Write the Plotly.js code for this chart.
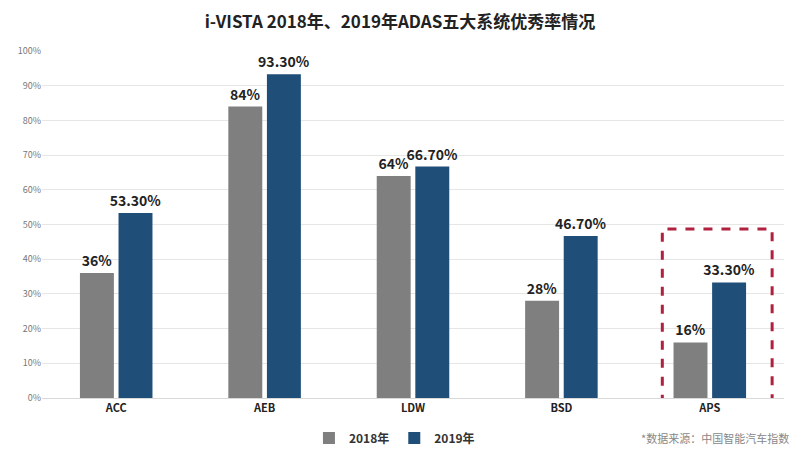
<!DOCTYPE html>
<html>
<head>
<meta charset="utf-8">
<script src="https://cdn.plot.ly/plotly-3.0.1.min.js"></script>
<style>
  html, body { margin: 0; padding: 0; background: #fff; }
  #chart { width: 800px; height: 464px; }
</style>
</head>
<body>
<div id="chart"></div>
<script>
// i-VISTA ADAS excellence rate, 2018 vs 2019
const systems = ["ACC", "AEB", "LDW", "BSD", "APS"];
const rate2018 = [36, 84, 64, 28, 16];
const rate2019 = [53.3, 93.3, 66.7, 46.7, 33.3];
const yTicks = [0, 10, 20, 30, 40, 50, 60, 70, 80, 90, 100];

const FONT = "'Noto Sans CJK SC', 'Noto Sans', sans-serif";
const labelFont = { family: FONT, size: 14, color: "#222", weight: "bold" };

const traces = [
  {
    name: "2018年", type: "bar", x: systems, y: rate2018,
    marker: { color: "#7f7f7f" },
    text: rate2018.map((v) => v + "%"),
    textposition: "outside", cliponaxis: false, constraintext: "none",
    textfont: labelFont, hoverinfo: "skip",
  },
  {
    name: "2019年", type: "bar", x: systems, y: rate2019,
    marker: { color: "#1f4e79" },
    text: rate2019.map((v) => v.toFixed(2) + "%"),
    textposition: "outside", cliponaxis: false, constraintext: "none",
    textfont: labelFont, hoverinfo: "skip",
  },
];

const layout = {
  width: 800, height: 464,
  margin: { l: 42, r: 16, t: 51, b: 58 },
  paper_bgcolor: "#fff", plot_bgcolor: "#fff",
  font: { family: FONT, color: "#333" },
  title: {
    text: "<b>i-VISTA 2018年、2019年ADAS五大系统优秀率情况</b>",
    x: 0.5, xanchor: "center", y: 0.952, yanchor: "middle",
    font: { family: FONT, size: 17, color: "#222" },
  },
  barmode: "group", bargap: 0.48, bargroupgap: 0.12,
  xaxis: {
    tickfont: { family: FONT, size: 11, color: "#222", weight: "bold" },
    showline: true, linecolor: "#d9d9d9", ticks: "",
  },
  yaxis: {
    range: [0, 100], tickmode: "array", tickvals: yTicks,
    ticktext: yTicks.map((v) => v + "%"),
    tickfont: { family: FONT, size: 9, color: "#777" },
    gridcolor: "#e6e6e6", zeroline: false, showline: false,
  },
  legend: {
    orientation: "h", x: 0.475, xanchor: "center", y: -0.115, yanchor: "middle",
    font: { family: FONT, size: 12, color: "#333", weight: "bold" },
    itemwidth: 30, traceorder: "normal", tracegroupgap: 0,
  },
  shapes: [{
    type: "rect", xref: "x", yref: "y",
    x0: 3.68, x1: 4.42, y0: -6.2, y1: 48.7,
    line: { color: "#b0213f", width: 3, dash: "dash" },
  }],
  annotations: [{
    text: "*数据来源：中国智能汽车指数",
    xref: "paper", yref: "paper", x: 1.01, xanchor: "right",
    y: -0.115, yanchor: "middle", showarrow: false,
    font: { family: FONT, size: 11, color: "#888" },
  }],
};

Plotly.newPlot("chart", traces, layout, { displayModeBar: false, staticPlot: true });
</script>
</body>
</html>
